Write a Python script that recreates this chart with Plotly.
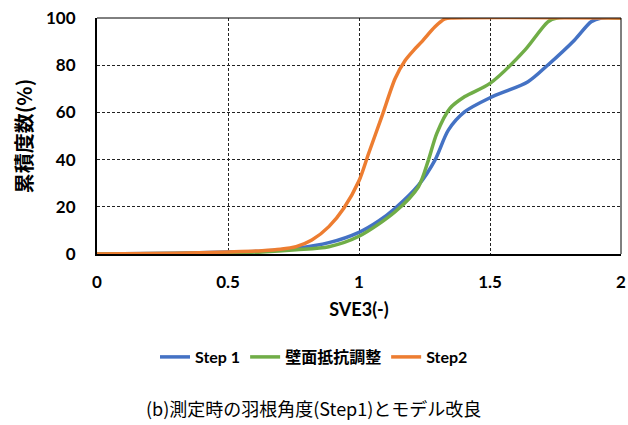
import plotly.graph_objects as go

# Cumulative frequency curves of SVE3
step1_x = [0, 0.3, 0.5, 0.63, 0.76, 0.885, 1.0, 1.075, 1.138, 1.227, 1.29, 1.341, 1.404, 1.5, 1.645, 1.721, 1.823, 1.886, 1.925, 2.0]
step1_y = [0, 0.3, 0.8, 1.2, 2.4, 4.8, 9.2, 14.0, 19.4, 29.2, 39.8, 52.5, 60.3, 66.2, 73.0, 80.1, 90.7, 98.4, 100, 100]

wall_x = [0, 0.3, 0.5, 0.63, 0.76, 0.885, 1.0, 1.138, 1.227, 1.265, 1.297, 1.347, 1.404, 1.5, 1.633, 1.721, 1.755, 2.0]
wall_y = [0, 0.2, 0.5, 0.9, 1.8, 3.1, 7.5, 17.9, 28.5, 39.8, 51.1, 61.7, 66.7, 72.3, 86.4, 98.4, 100, 100]

step2_x = [0, 0.3, 0.5, 0.63, 0.7, 0.76, 0.82, 0.885, 0.942, 1.0, 1.037, 1.087, 1.138, 1.176, 1.21, 1.24, 1.29, 1.328, 1.36, 2.0]
step2_y = [0, 0.3, 0.9, 1.4, 2.0, 3.1, 5.9, 11.6, 19.4, 31.0, 42.7, 58.2, 74.4, 82.0, 86.5, 90.0, 96.3, 99.6, 100, 100]

x_ticks = [0, 0.5, 1, 1.5, 2]
x_tick_text = ["0", "0.5", "1", "1.5", "2"]
y_ticks = [0, 20, 40, 60, 80, 100]

series = [
    ("Step 1", step1_x, step1_y, "#4472C4"),
    ("壁面抵抗調整", wall_x, wall_y, "#70AD47"),
    ("Step2", step2_x, step2_y, "#ED7D31"),
]

LAT = "Lato, 'Noto Sans CJK JP', sans-serif"
JP = "'Noto Sans CJK JP', sans-serif"

fig = go.Figure()
for name, xs, ys, color in series:
    fig.add_trace(go.Scatter(
        x=xs, y=ys, name=name, mode="lines",
        line=dict(color=color, width=3.5, shape="spline", smoothing=0.8),
    ))

fig.update_layout(
    width=628, height=425,
    margin=dict(l=97, r=7, t=18, b=171),
    paper_bgcolor="white", plot_bgcolor="white",
    font=dict(family=LAT, color="black"),
    showlegend=True,
    legend=dict(
        orientation="h", xref="container", x=0.5, xanchor="center",
        yref="container", y=0.16, yanchor="middle",
        font=dict(family=LAT, size=16, color="black", weight="bold"),
        itemwidth=30, traceorder="normal",
    ),
    xaxis=dict(
        range=[0, 2], tickvals=x_ticks, ticktext=x_tick_text, automargin=False,
        showgrid=True, gridcolor="#222222", griddash="3px,2px", gridwidth=1,
        showline=True, linecolor="black", linewidth=2, mirror=False,
        zeroline=False, ticks="", ticklabelstandoff=12,
        tickfont=dict(family=LAT, size=17, weight="bold"),
        title=dict(text="SVE3(-)", standoff=12,
                   font=dict(family=LAT, size=18, weight="bold")),
    ),
    yaxis=dict(
        range=[0, 100], tickvals=y_ticks, automargin=False,
        showgrid=True, gridcolor="#222222", griddash="3px,2px", gridwidth=1,
        showline=True, linecolor="black", linewidth=2, mirror=False,
        zeroline=False, ticks="", ticklabelstandoff=16,
        tickfont=dict(family=LAT, size=17, weight="bold"),
        title=dict(text="累積度数(%)", standoff=8,
                   font=dict(family=JP, size=20, weight="bold")),
    ),
    annotations=[
        dict(text="(b)測定時の羽根角度(Step1)とモデル改良",
             xref="paper", yref="paper", x=0.414, y=-0.653,
             xanchor="center", yanchor="middle", showarrow=False,
             font=dict(family=JP, size=18, color="black")),
    ],
    shapes=[
        dict(type="line", xref="paper", yref="paper", x0=0, x1=1, y0=1, y1=1,
             line=dict(color="black", width=1)),
        dict(type="line", xref="paper", yref="paper", x0=1, x1=1, y0=0, y1=1,
             line=dict(color="black", width=1)),
    ],
)

fig.write_html("out.html")
